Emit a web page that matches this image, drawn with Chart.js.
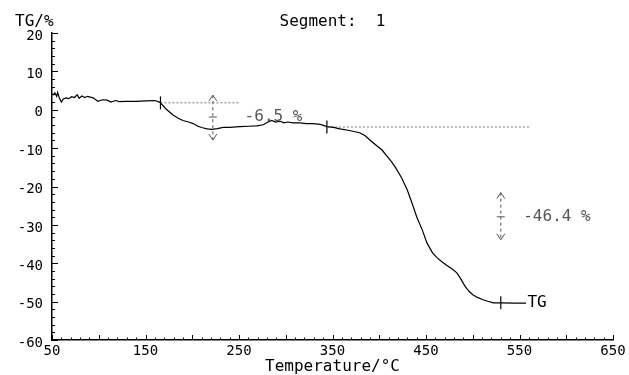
<!DOCTYPE html>
<html>
<head>
<meta charset="utf-8">
<script src="https://cdn.jsdelivr.net/npm/chart.js@4.4.1/dist/chart.umd.min.js"></script>
<style>
  html, body { margin: 0; padding: 0; background: #fff; }
  #wrap { width: 629px; height: 375px; }
</style>
</head>
<body>
<div id="wrap"><canvas id="c" width="629" height="375"></canvas></div>
<script>
// ---- data ----
const temps = [51,53,55,56,58,60,62,65,68,71,74,77,79,82,85,88,91,94,99,104,109,113,118,122,130,140,150,160,165,
  166,172,179,185,190,196,201,206,211,216,221,227,233,240,251,260,269,276,281,285,289,294,298,302,308,315,322,329,337,
  344,351,358,368,379,385,390,397,403,408,413,417,424,430,435,440,446,451,457,462,467,472,478,483,487,492,496,500,505,
  511,516,522,530,545,557];
const tgValues = [3.8,4.4,3.5,4.5,3.0,2.0,2.8,3.1,2.9,3.4,3.2,3.9,3.0,3.6,3.2,3.5,3.3,3.1,2.2,2.6,2.5,2.0,2.4,2.1,2.2,2.2,2.3,2.4,2.0,
  1.8,0.2,-1.3,-2.2,-2.8,-3.2,-3.6,-4.3,-4.7,-5.0,-5.1,-4.9,-4.6,-4.6,-4.4,-4.3,-4.2,-3.9,-3.2,-2.8,-3.2,-3.0,-3.4,-3.2,-3.4,-3.4,-3.6,-3.6,-3.8,
  -4.4,-4.6,-5.0,-5.4,-6.0,-6.8,-7.9,-9.3,-10.5,-12.0,-13.5,-14.9,-17.8,-20.9,-24.3,-27.9,-31.3,-34.7,-37.3,-38.6,-39.6,-40.5,-41.5,-42.5,-44.0,-46.1,-47.3,-48.2,-48.9,
  -49.5,-49.9,-50.3,-50.3,-50.4,-50.4];

const xTickValues = [50,150,250,350,450,550,650];
const yTickValues = [20,10,0,-10,-20,-30,-40,-50,-60];

const stepMarkerT  = [166, 344, 530];
const stepMarkerTG = [1.8, -4.5, -50.3];

const base1T  = [166, 251];
const base1TG = [1.8, 1.8];
const base2T  = [344, 561];
const base2TG = [-4.5, -4.5];

const arrowT      = [222, 530];
const arrowTop    = [3.8, -21.6];
const arrowBottom = [-7.9, -33.9];
const arrowMid    = [-1.9, -27.9];

const stepLabels   = ['-6.5 %', '-46.4 %'];
const stepLabelT   = [256, 554];
const stepLabelTG  = [-1.9, -27.9];

const curveLabel   = 'TG';
const curveLabelT  = 558.5;
const curveLabelTG = -50.3;

const titleText  = 'Segment:  1';
const yTitleText = 'TG/%';
const xTitleText = 'Temperature/°C';

// ---- build datasets ----
const pts = (xs, ys) => xs.map((v, i) => ({x: v, y: ys[i]}));
const MONO = "'DejaVu Sans Mono', 'Liberation Mono', monospace";

const datasets = [
  { data: pts(temps, tgValues), borderColor: '#000', borderWidth: 1.2, pointRadius: 0, showLine: true, tension: 0 },
  { data: pts(base1T, base1TG), borderColor: '#777', borderWidth: 1, borderDash: [2, 2], pointRadius: 0, showLine: true },
  { data: pts(base2T, base2TG), borderColor: '#777', borderWidth: 1, borderDash: [2, 2], pointRadius: 0, showLine: true },
  { data: pts(stepMarkerT, stepMarkerTG), showLine: false, pointStyle: 'line', rotation: 90, pointRadius: 6.5,
    borderColor: '#000', pointBorderWidth: 1.2 }
];
arrowT.forEach((t, i) => {
  datasets.push({ data: [{x: t, y: arrowTop[i]}, {x: t, y: arrowBottom[i]}], borderColor: '#555', borderWidth: 1,
    borderDash: [3, 3], pointRadius: 0, showLine: true });
  datasets.push({ data: [{x: t, y: arrowMid[i]}], showLine: false, pointStyle: 'line', pointRadius: 4,
    borderColor: '#555', pointBorderWidth: 1 });
});

const annot = {
  id: 'annot',
  afterDraw(chart) {
    const {ctx, chartArea: ca, scales: {x, y}} = chart;
    ctx.save();
    // inward tick marks
    ctx.strokeStyle = '#000';
    ctx.lineWidth = 1;
    ctx.beginPath();
    for (let v = -60; v <= 20; v += 2) {
      const py = Math.round(y.getPixelForValue(v)) + 0.5;
      const len = (v % 10 === 0) ? 6 : 3;
      ctx.moveTo(ca.left, py); ctx.lineTo(ca.left + len, py);
    }
    for (let v = 50; v <= 650; v += 10) {
      const px = Math.round(x.getPixelForValue(v)) + 0.5;
      const len = (v % 50 === 0) ? 5 : 2.5;
      ctx.moveTo(px, ca.bottom); ctx.lineTo(px, ca.bottom - len);
    }
    ctx.stroke();

    // arrow heads
    ctx.strokeStyle = '#555';
    ctx.lineWidth = 1;
    arrowT.forEach((t, i) => {
      const px = x.getPixelForValue(t);
      const pt = y.getPixelForValue(arrowTop[i]);
      const pb = y.getPixelForValue(arrowBottom[i]);
      ctx.beginPath();
      ctx.moveTo(px - 4, pt + 6); ctx.lineTo(px, pt); ctx.lineTo(px + 4, pt + 6);
      ctx.moveTo(px - 4, pb - 6); ctx.lineTo(px, pb); ctx.lineTo(px + 4, pb - 6);
      ctx.stroke();
    });

    // texts
    ctx.font = '16px ' + MONO;
    ctx.textBaseline = 'middle';
    ctx.fillStyle = '#555';
    ctx.textAlign = 'left';
    stepLabels.forEach((s, i) => {
      ctx.fillText(s, x.getPixelForValue(stepLabelT[i]), y.getPixelForValue(stepLabelTG[i]));
    });
    ctx.fillStyle = '#000';
    ctx.fillText(curveLabel, x.getPixelForValue(curveLabelT), y.getPixelForValue(curveLabelTG));
    ctx.fillText(yTitleText, 15, 22);
    ctx.textAlign = 'center';
    ctx.fillText(titleText, (ca.left + ca.right) / 2, 22);
    ctx.fillText(xTitleText, (ca.left + ca.right) / 2, 367);
    ctx.restore();
  }
};

new Chart(document.getElementById('c'), {
  type: 'scatter',
  data: { datasets },
  options: {
    responsive: false,
    animation: false,
    events: [],
    layout: { padding: { top: 33, right: 16, left: 0, bottom: 0 } },
    plugins: { legend: { display: false }, tooltip: { enabled: false }, title: { display: false } },
    scales: {
      x: {
        type: 'linear', min: 50, max: 650,
        afterBuildTicks: (s) => { s.ticks = xTickValues.map(v => ({value: v})); },
        afterFit: (s) => { s.height = 35; },
        grid: { display: false, drawTicks: false },
        border: { display: true, color: '#000', width: 1.5 },
        ticks: { color: '#000', font: { family: MONO, size: 14 }, padding: 3, maxRotation: 0, autoSkip: false }
      },
      y: {
        type: 'linear', min: -60, max: 20,
        afterBuildTicks: (s) => { s.ticks = yTickValues.map(v => ({value: v})); },
        afterFit: (s) => { s.width = 52; },
        grid: { display: false, drawTicks: false },
        border: { display: true, color: '#000', width: 1.5 },
        ticks: { color: '#000', font: { family: MONO, size: 14 }, padding: 9, labelOffset: 3, autoSkip: false }
      }
    }
  },
  plugins: [annot]
});
</script>
</body>
</html>
